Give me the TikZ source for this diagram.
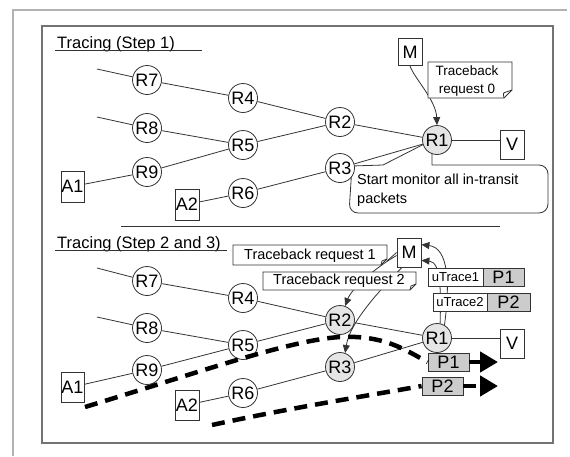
\documentclass[tikz,border=0pt]{standalone}
\usepackage{fontspec}
\setmainfont{Liberation Sans}
\usetikzlibrary{arrows.meta}
\pgfdeclarelayer{bg}
\pgfsetlayers{bg,main}
\begin{document}
\begin{tikzpicture}[x=1pt,y=-1pt,
  rnode/.style={circle,draw=black!80,line width=0.8pt,fill=white,minimum size=29pt,inner sep=0pt,font=\fontsize{18}{18}\selectfont},
  gnode/.style={rnode,fill=black!10},
  sq/.style={rectangle,draw=black!80,line width=0.8pt,fill=white,inner sep=0pt,minimum width=24pt,minimum height=30pt,font=\fontsize{18}{18}\selectfont},
  ln/.style={draw=black!80,line width=0.8pt},
  arr/.style={ln,-{Triangle[length=8pt,width=7pt]}},
  pdash/.style={line width=4.5pt,dash pattern=on 13pt off 8pt},
  bigtip/.style={-{Triangle[length=18pt,width=20pt]}},
  pbox/.style={rectangle,draw=black!80,line width=0.8pt,fill=black!20,inner sep=0pt,minimum width=41pt,minimum height=18pt,font=\fontsize{18}{18}\selectfont},
  ubox/.style={rectangle,draw=black!80,line width=0.8pt,fill=white,inner sep=0pt,minimum height=18pt,font=\fontsize{13}{13}\selectfont},
  note/.style={draw=black!80,line width=0.8pt,fill=white},
  ttl/.style={anchor=base west,inner sep=0pt,font=\fontsize{16.5}{18}\selectfont},
  reqtxt/.style={inner sep=0pt,font=\fontsize{14.5}{18}\selectfont}
]
\useasboundingbox (0,0) rectangle (570,456);
% frames
\draw[black!30,line width=2pt] (567,10) -- (13,10) -- (13,456);
\draw[black!55,line width=1.3pt] (42,26) rectangle (553,443);
\draw[black!80,line width=0.9pt] (121,226) -- (500,226);

% ---------- Step 1 ----------
\node[ttl] (t1) at (57,48) {Tracing (Step 1)};
\draw[black!80,line width=0.9pt] (55,50) -- (202,50);

\begin{pgfonlayer}{bg}
\draw[note] (432,140) -- (383,165) -- (352,166) [rounded corners=9pt] -- (349,213) -- (548,213) -- (548,165) [sharp corners] -- (432,165) -- cycle;
\end{pgfonlayer}
\node[anchor=west,align=left,inner sep=0pt,font=\fontsize{14.5}{19}\selectfont] (mon) at (357,190) {Start monitor all in-transit\\packets};

\node[rnode] (a7) at (147,80) {R7};
\node[rnode] (a4) at (243,98) {R4};
\node[rnode] (a8) at (147,128) {R8};
\node[rnode] (a5) at (243,145) {R5};
\node[rnode] (a9) at (147,172) {R9};
\node[rnode] (a6) at (243,193) {R6};
\node[rnode] (a2) at (340,122) {R2};
\node[rnode] (a3) at (340,168) {R3};
\node[gnode] (a1) at (437,140) {R1};
\node[sq,minimum width=23pt,minimum height=31pt] (aA1) at (72.5,186.5) {A1};
\node[sq,minimum height=31pt] (aA2) at (187,204.5) {A2};
\node[sq,minimum height=29pt] (aV) at (512,144.5) {V};
\node[sq,minimum height=27pt] (aM) at (410,52) {M};
\coordinate (a7s) at (97,69);
\coordinate (a8s) at (97,117);

\draw[ln] (a7s) -- (a7) -- (a4) -- (a2) -- (a1);
\draw[ln] (a8s) -- (a8) -- (a5) -- (a2);
\draw[ln] (aA1) -- (a9) -- (a5);
\draw[ln] (aA2) -- (a6) -- (a3) -- (a1);
\draw[ln] (a1.east) -- (a1.east -| aV.west);

\draw[arr] (aM.south) .. controls (414,78) and (436,100) .. (a1.north);
\draw[note] (428,62) -- (512,62) -- (512,90) -- (504,98) -- (428,98) -- cycle;
\draw[ln] (504,98) .. controls (503,93) .. (506,92) -- (512,90);
\node[align=center,inner sep=0pt,font=\fontsize{13.5}{17.5}\selectfont] (rq0) at (467,81) {Traceback\\request 0};

% ---------- Step 2 ----------
\node[ttl] (t2) at (57,248) {Tracing (Step 2 and 3)};
\draw[black!80,line width=0.9pt] (55,250) -- (227,250);

\node[rnode] (b7) at (147,281) {R7};
\node[rnode] (b4) at (243,298) {R4};
\node[rnode] (b8) at (147,328) {R8};
\node[rnode] (b5) at (243,345) {R5};
\node[rnode] (b9) at (147,370) {R9};
\node[rnode] (b6) at (243,393) {R6};
\node[gnode] (b2) at (340,320) {R2};
\node[gnode] (b3) at (340,367) {R3};
\node[gnode] (b1) at (437,338) {R1};
\node[sq,minimum width=23pt] (bA1) at (72.5,387) {A1};
\node[sq] (bA2) at (187,405) {A2};
\node[sq,minimum height=29pt] (bV) at (512,343.5) {V};
\node[sq,minimum height=29pt] (bM) at (409,252.5) {M};
\coordinate (b7s) at (97,268);
\coordinate (b8s) at (97,317);

\draw[ln] (b7s) -- (b7) -- (b4) -- (b2) -- (b1);
\draw[ln] (b8s) -- (b8) -- (b5) -- (b2);
\draw[ln] (bA1) -- (b9) -- (b5);
\draw[ln] (bA2) -- (b6) -- (b3) -- (b1);
\draw[ln] (b1.east) -- (b1.east -| bV.west);

% requests from M
\draw[arr] ([yshift=-3pt]bM.west) .. controls (375,268) and (352,288) .. (b2.70);
\draw[arr] ([xshift=-7pt]bM.south) .. controls (380,290) and (350,322) .. (b3.70);
\draw[note] (233,245) -- (387,245) -- (387,259) -- (381,265) -- (233,265) -- cycle;
\draw[ln] (381,265) -- (382,261) -- (387,259);
\node[reqtxt] (rq1) at (310,255.5) {Traceback request 1};
\coordinate (q1c) at (387,261);
\draw[ln] (q1c) -- (bM.west);
\draw[note] (263,272) -- (416,272) -- (416,284) -- (410,290) -- (263,290) -- cycle;
\draw[ln] (410,290) -- (411,286) -- (416,284);
\node[reqtxt] (rq2) at (339,281) {Traceback request 2};

% uTrace back to M
\draw[arr] (b1.60) .. controls (450,285) and (449,248) .. ([yshift=-7pt]bM.north east);
\draw[arr] (b1.78) .. controls (441,290) and (441,262) .. ([yshift=7pt]bM.south east);
\node[ubox,minimum width=55pt] (u1) at (455.5,277) {uTrace1};
\node[pbox] (u1p) at (503.5,277) {P1};
\node[ubox,minimum width=54pt] (u2) at (460,302) {uTrace2};
\node[pbox,minimum width=43pt] (u2p) at (508.5,302) {P2};

% packets
\node[pbox] (P1) at (448.5,362) {P1};
\node[pbox] (P2) at (442.5,386) {P2};
\coordinate (s1) at (85,407);
\coordinate (s2) at (212,425);
\coordinate (tip1) at (498,362);
\coordinate (tip2) at (498,386);
\draw[pdash] (s1) .. controls (200,372) and (290,340) .. (340,337) .. controls (385,335) and (405,350) .. (P1.west);
\draw[pdash] (s2) .. controls (290,408) and (360,397) .. (P2.west);
\draw[pdash,bigtip] (P1.east) -- (tip1);
\draw[pdash,bigtip] (P2.east) -- (tip2);
\end{tikzpicture}
\end{document}
